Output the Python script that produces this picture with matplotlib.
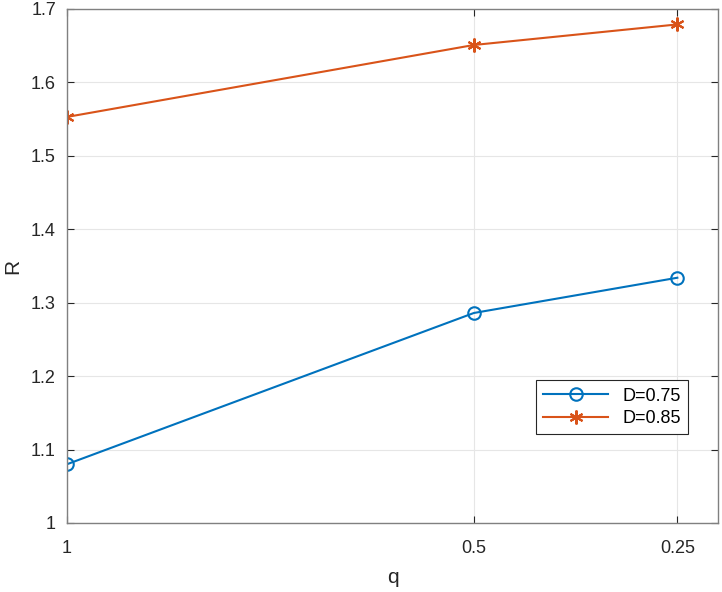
import matplotlib
matplotlib.use("Agg")
import matplotlib.pyplot as plt

plt.rcParams["font.family"] = ["Liberation Sans", "DejaVu Sans"]

q = [1, 0.5, 0.25]
r_d075 = [1.080, 1.286, 1.334]
r_d085 = [1.553, 1.651, 1.679]
labels = ["D=0.75", "D=0.85"]

axis_col = "#262626"

fig = plt.figure(figsize=(7.22, 5.92), dpi=100)
ax = fig.add_axes([0.0928, 0.1166, 0.9017, 0.8682])

ax.plot(q, r_d075, color="#0072BD", lw=1.5, marker="o", ms=9, mfc="none",
        mew=1.5, label=labels[0])
ax.plot(q, r_d085, color="#D95319", lw=1.5, marker=(6, 2, 0), ms=10,
        mew=1.5, label=labels[1])

ax.set_xlim(1, 0.2)
ax.set_ylim(1, 1.7)
ax.set_xticks([1, 0.5, 0.25])
ax.set_xticklabels(["1", "0.5", "0.25"])
ax.set_yticks([1, 1.1, 1.2, 1.3, 1.4, 1.5, 1.6, 1.7])
ax.set_yticklabels(["1", "1.1", "1.2", "1.3", "1.4", "1.5", "1.6", "1.7"])
ax.grid(True, color="#e6e6e6", lw=0.8)
ax.set_axisbelow(True)
ax.tick_params(direction="in", top=True, right=True, length=5,
               colors=axis_col, labelsize=13, labelcolor=axis_col)
ax.tick_params(axis="x", pad=12)
ax.tick_params(axis="y", pad=8)
for s in ax.spines.values():
    s.set_color("#808080")
    s.set_linewidth(1.0)
ax.set_xlabel("q", fontsize=15, color=axis_col, labelpad=8)
ax.set_ylabel("R", fontsize=15, color=axis_col, labelpad=6)

leg = ax.legend(loc="lower right", bbox_to_anchor=(0.968, 0.155), fontsize=13,
                fancybox=False, edgecolor=axis_col, framealpha=1,
                handlelength=3.6, borderpad=0.4, labelspacing=0.3)
leg.get_frame().set_linewidth(0.8)

fig.savefig("out.png", dpi=100)
